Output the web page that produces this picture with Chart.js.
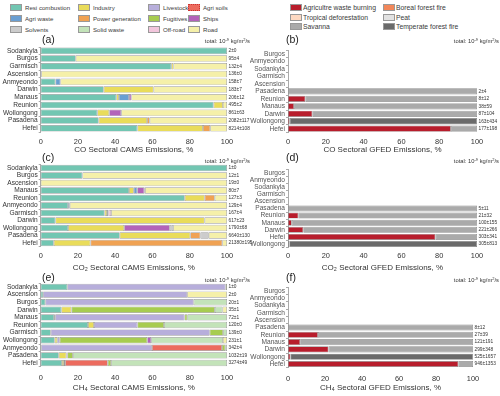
<!DOCTYPE html>
<html><head><meta charset="utf-8">
<script src="https://cdn.jsdelivr.net/npm/chart.js@4.4.1/dist/chart.umd.min.js"></script>
<style>
html,body{margin:0;padding:0;background:#fff;}
#root{position:relative;width:500px;height:396px;overflow:hidden;font-family:'Liberation Sans',Arial,sans-serif;color:#333;}
canvas{position:absolute;}
.lg{position:absolute;display:flex;align-items:center;white-space:nowrap;color:#3a3a3a;}
.sw{display:inline-block;box-sizing:border-box;border:1px solid #999;margin-right:3px;}
.pl{position:absolute;font-size:10.5px;color:#222;line-height:1;}
.tot{position:absolute;font-size:5.8px;color:#333;white-space:nowrap;line-height:1;text-align:right;}
.tot sup{font-size:4px;vertical-align:2px;}
</style></head>
<body><div id="root"></div>
<script>
// ---------- DATA ----------
// CAMS sectors in stacking order
const camsSectors = ['Resi combustion','Industry','Agri waste','Power generation','Livestock','Agri soils','Fugitives','Ships','Solvents','Solid waste','Off-road','Road'];
const camsColors  = ['#72c6b2','#e9dc5a','#6a9fd2','#f0a253','#b7aedb','#ec6b5e','#a7cc50','#b363ba','#cccccc','#c3e3b9','#f2c6dc','#f5f0a9'];
// GFED sectors in stacking order
const gfedSectors = ['Agricultre waste burning','Boreal forest fire','Tropical deforestation','Peat','Savanna','Temperate forest fire'];
const gfedColors  = ['#b81d2c','#f2875a','#fdd9c2','#e2e2e2','#aaaaaa','#6a6a6a'];

// (a) CO CAMS
const coCamsSites  = ['Sodankyla','Burgos','Garmisch','Ascension','Anmyeondo','Darwin','Manaus','Reunion','Wollongong','Pasadena','Hefei'];
const coCamsTotals = ['2±0','95±4','132±4','136±0','158±7','183±7','206±12','495±2','861±63','2082±117','8214±108'];
const coCamsShares = [
  [100,0,0,0,0,0,0,0,0,0,0,0],
  [18.8,0,0,0,0,0,0,0,0,0,0,81.2],
  [70.1,1.2,0,0,0,0,0,0,0,0,0,28.7],
  [0.3,0,0,0,0,0,0,0,0,0,0,99.7],
  [7.9,0,2.7,0,0,0,0,0,0,0,0,89.4],
  [33.8,26.8,0,0,0,0,0,0,0,0,0,39.4],
  [40.6,1.4,5.4,0,0,0,0,1.3,0,0,0,51.3],
  [92.8,5.0,0,0,0,0,0,0,0,0,0,2.2],
  [30.4,6.4,0,0,0,0,0,6.4,0,0,0,56.8],
  [31.1,26.0,0,1.4,0,0,0,0,0,0,0,41.5],
  [51.9,35.2,0,3.9,0,0,0,0,0,0,0,9.0]
];
// (c) CO2 CAMS
const co2CamsSites  = ['Sodankyla','Burgos','Ascension','Manaus','Reunion','Anmyeondo','Garmisch','Darwin','Wollongong','Pasadena','Hefei'];
const co2CamsTotals = ['1±0','12±1','19±0','80±7','127±3','129±4','167±4','617±23','1790±68','6640±130','21380±195'];
const co2CamsShares = [
  [100,0,0,0,0,0,0,0,0,0,0,0],
  [22.4,0,0,0,0,0,0,0,0,0,0,77.6],
  [0,0,0,0,0,0,0,0,0,0,0,100],
  [47.4,2.6,1.8,0,0,0,0,3.8,0.4,0,0,44.0],
  [77.3,10.7,0,5.4,0,0,0,0,0,0,0,6.6],
  [14.7,0,0.9,0,0,0,0,0,0,0,0,84.4],
  [34.3,1.3,0,0,0,0,0,0,0.8,0,1.4,62.2],
  [7.9,80.1,0,0,0,0,0,0,0,0,0,12.0],
  [14.7,30.1,0,0,0,0,0,24.5,1.8,0,0,28.9],
  [42.4,37.9,0,5.4,0,0,0,0,4.5,0,0,9.8],
  [7.0,19.7,0,70.8,0,0,0,0,0,0,0,2.5]
];
// (e) CH4 CAMS
const ch4CamsSites  = ['Sodankyla','Ascension','Burgos','Darwin','Manaus','Reunion','Garmisch','Wollongong','Anmyeondo','Pasadena','Hefei'];
const ch4CamsTotals = ['1±0','2±0','20±1','35±1','72±1','120±0','139±0','231±1','342±4','1032±19','3274±49'];
const ch4CamsShares = [
  [14.3,0,0,0,84.9,0,0.8,0,0,0,0,0],
  [1.3,0,0,0,77.3,0,0,0,0,0,0,21.4],
  [2.5,0,0,0,79.6,0,0,0,0,17.9,0,0],
  [11.1,5.4,0,0,0,0,77.0,0,0,4.1,0,2.4],
  [7.2,0.6,0,0,69.4,0,1.5,0,0,21.3,0,0],
  [25.4,3.2,0,0,23.3,0,14.3,0,0,33.8,0,0],
  [5.4,0,0,0,85.3,0,7.2,0,0,2.1,0,0],
  [7.5,1.4,0,0,1.3,0,47.0,2.1,0,38.5,0,2.2],
  [0.3,0,0,0,59.4,37.6,1.8,0,0,0.9,0,0],
  [9.7,4.1,0,0,0.5,0,3.0,0,0,82.7,0,0],
  [11.4,1.1,0,0,0.6,22.9,1.8,0,0,62.2,0,0]
];
// (b) CO GFED
const coGfedSites  = ['Burgos','Anmyeondo','Sodankyla','Garmisch','Ascension','Pasadena','Reunion','Manaus','Darwin','Wollongong','Hefei'];
const coGfedTotals = ['','','','','','2±4','8±12','38±59','87±104','163±434','177±198'];
const coGfedShares = [
  null,null,null,null,null,
  [0,0,0,0,100,0],
  [9.2,0,0,0,90.8,0],
  [3.2,0,0,0,96.8,0],
  [12.9,0,0,0,87.1,0],
  [0.9,0,0,0,0,99.1],
  [86.2,0,0,0,13.8,0]
];
// (d) CO2 GFED
const co2GfedSites  = ['Burgos','Anmyeondo','Sodankyla','Garmisch','Ascension','Pasadena','Reunion','Manaus','Darwin','Hefei','Wollongong'];
const co2GfedTotals = ['','','','','','5±11','21±32','100±155','221±266','303±341','305±813'];
const co2GfedShares = [
  null,null,null,null,null,
  [0,0,0,0,100,0],
  [5.5,0,0,0,94.5,0],
  [2.0,0,0,0,98.0,0],
  [8.1,0,0,0,91.9,0],
  [78.0,0,0,0,22.0,0],
  [0.7,0,0,0,0,99.3]
];
// (f) CH4 GFED
const ch4GfedSites  = ['Burgos','Anmyeondo','Sodankyla','Garmisch','Ascension','Pasadena','Reunion','Manaus','Darwin','Wollongong','Hefei'];
const ch4GfedTotals = ['','','','','','8±12','27±39','121±191','299±348','525±1657','946±1353'];
const ch4GfedShares = [
  null,null,null,null,null,
  [0,0,0,0,100,0],
  [16.2,0,0,0,83.8,0],
  [6.6,0,0,0,93.4,0],
  [21.9,0,0,0,78.1,0],
  [1.3,0,0,0,0,98.7],
  [92.1,0,0,0,7.9,0]
];
const xTicks = [0,20,40,60,80,100];

// ---------- RENDER ----------
Chart.defaults.font.family = "'Liberation Sans', Arial, sans-serif";
const root = document.getElementById('root');

function el(tag, cls, css, html){
  const e=document.createElement(tag); if(cls) e.className=cls;
  Object.assign(e.style, css||{}); if(html!==undefined) e.innerHTML=html; root.appendChild(e); return e;
}

// legends
const leftLegendLayout = [
  ['Resi combustion','Industry','Livestock','Agri soils'],
  ['Agri waste','Power generation','Fugitives','Ships'],
  ['Solvents','Solid waste','Off-road','Road']
];
const leftColX=[10,78,148,188], leftRowY=[3,14,25];
leftLegendLayout.forEach((row,r)=>row.forEach((name,c)=>{
  const i=camsSectors.indexOf(name);
  const d=el('div','lg',{left:leftColX[c]+'px',top:leftRowY[r]+'px',height:'8px',fontSize:'6.1px'});
  d.innerHTML='<span class="sw" style="width:12px;height:7px;background:'+camsColors[i]+(name==='Agri soils'?';border:1px dotted #c33':'')+'"></span>'+name;
}));
const rightLegendLayout=[['Agricultre waste burning','Boreal forest fire'],['Tropical deforestation','Peat'],['Savanna','Temperate forest fire']];
const rightColX=[290,383], rightRowY=[3,13,22];
rightLegendLayout.forEach((row,r)=>row.forEach((name,c)=>{
  const i=gfedSectors.indexOf(name);
  const d=el('div','lg',{left:rightColX[c]+'px',top:rightRowY[r]+'px',height:'8px',fontSize:'6.8px'});
  d.innerHTML='<span class="sw" style="width:12px;height:7px;margin-right:1px;background:'+gfedColors[i]+'"></span>'+name;
}));

const totalsPlugin = {
  id:'totals',
  afterDraw(chart, args, opts){
    const {ctx, chartArea, scales} = chart;
    ctx.save();
    ctx.font = "4.8px 'Liberation Sans', Arial, sans-serif";
    ctx.fillStyle = '#333'; ctx.textBaseline='middle'; ctx.textAlign='left';
    (opts.labels||[]).forEach((t,i)=>{ if(t) ctx.fillText(t, chartArea.right+1.5, scales.y.getPixelForValue(i)); });
    ctx.restore();
  }
};

function panel(p){
  const c=document.createElement('canvas');
  c.width=p.w; c.height=p.h;
  Object.assign(c.style,{left:p.left+'px',top:p.top+'px',width:p.w+'px',height:p.h+'px'});
  root.appendChild(c);
  const datasets = p.sectors.map((name,j)=>({
    label:name,
    data:p.shares.map(r=> (r && r[j]) ? r[j] : null),
    backgroundColor:p.colors[j],
    borderColor:p.border, borderWidth:0.7, borderSkipped:false,
    categoryPercentage:1, barPercentage:0.84
  }));
  new Chart(c,{
    type:'bar',
    data:{labels:p.sites, datasets},
    plugins:[totalsPlugin],
    options:{
      indexAxis:'y', responsive:false, animation:false, devicePixelRatio:1,
      layout:{padding:{top:p.padTop,right:p.padRight,left:0,bottom:0}},
      plugins:{legend:{display:false},tooltip:{enabled:false},totals:{labels:p.totals}},
      scales:{
        x:{stacked:true,min:0,max:100,
           afterBuildTicks:(s)=>{s.ticks=xTicks.map(v=>({value:v}));},
           grid:{display:false,drawTicks:false}, border:{display:false},
           ticks:{font:{size:7.4},color:'#333',padding:p.tickPad,maxRotation:0},
           title:{display:true,text:p.xTitle,font:{size:8},color:'#333',padding:{top:0,bottom:1}},
           afterFit:(s)=>{s.height=p.xH;}},
        y:{stacked:true,
           grid:{display:true,drawOnChartArea:false,tickLength:2,color:'#aaa'},
           border:{display:true,color:'#aaa'},
           ticks:{autoSkip:false,font:{size:6.6},color:p.labelColor,padding:1},
           afterFit:(s)=>{s.width=p.yW;}}
      }
    }
  });
}

const L={left:0,w:256,yW:40.7,padRight:29,sectors:camsSectors,colors:camsColors,border:'#9a9a9a',labelColor:'#333'};
const R={left:250,w:250,yW:38,padRight:23,sectors:gfedSectors,colors:gfedColors,border:'#8a8a8a',labelColor:'#555'};

panel(Object.assign({},L,{top:40,h:116.3,padTop:7,xH:23.8,tickPad:5.5,sites:coCamsSites,shares:coCamsShares,totals:coCamsTotals,xTitle:'CO Sectoral CAMS Emissions, %'}));
panel(Object.assign({},L,{top:158,h:116,padTop:6.25,xH:27.25,tickPad:4.8,sites:co2CamsSites,shares:co2CamsShares,totals:co2CamsTotals,xTitle:'CO\u2082 Sectoral CAMS Emissions, %'}));
panel(Object.assign({},L,{top:276,h:118,padTop:7.2,xH:27.2,tickPad:6.7,sites:ch4CamsSites,shares:ch4CamsShares,totals:ch4CamsTotals,xTitle:'CH\u2084 Sectoral CAMS Emissions, %'}));
panel(Object.assign({},R,{top:40,h:116.3,padTop:10.25,xH:23.55,tickPad:5.25,sites:coGfedSites,shares:coGfedShares,totals:coGfedTotals,xTitle:'CO Sectoral GFED Emissions, %'}));
panel(Object.assign({},R,{top:158,h:116,padTop:11.45,xH:26.45,tickPad:4,sites:co2GfedSites,shares:co2GfedShares,totals:co2GfedTotals,xTitle:'CO\u2082 Sectoral GFED Emissions, %'}));
panel(Object.assign({},R,{top:276,h:118,padRight:27,padTop:11.35,xH:26.35,tickPad:7.2,sites:ch4GfedSites,shares:ch4GfedShares,totals:ch4GfedTotals,xTitle:'CH\u2084 Sectoral GFED Emissions, %'}));

// panel letters & totals unit labels
[['(a)',42,34],['(b)',286,34],['(c)',42,152],['(d)',286,152],['(e)',42,272],['(f)',286,272]].forEach(([t,x,y])=>el('div','pl',{left:x+'px',top:y+'px'},t));
const unit='total: 10<sup>-9</sup> kg/m<sup>2</sup>/s';
[[250,38],[499,38],[250,158],[499,158],[250,277],[499,277]].forEach(([x,y])=>el('div','tot',{right:(500-x)+'px',top:y+'px'},unit));
</script>
</body></html>
